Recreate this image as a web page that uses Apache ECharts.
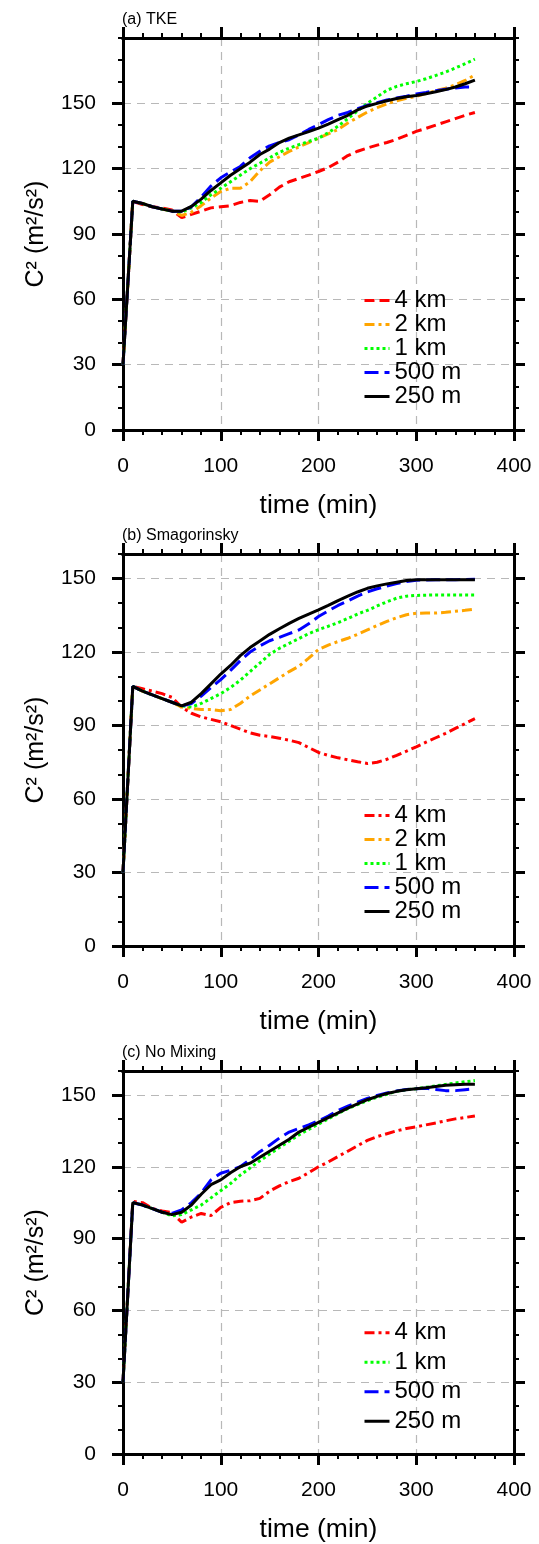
<!DOCTYPE html>
<html>
<head>
<meta charset="utf-8">
<script src="https://cdn.jsdelivr.net/npm/echarts@6/dist/echarts.min.js"></script>
<style>html,body{margin:0;padding:0;background:#fff}#chart{width:539px;height:1544px}</style>
</head>
<body>
<div id="chart"></div>
<script>
// ---- data (time in minutes, C^2 in m^2/s^2) ----
const times = [0,10,20,30,40,50,60,70,80,90,100,110,120,130,140,150,160,170,180,190,200,210,220,230,240,250,260,270,280,290,300,310,320,330,340,350,360];

// (a) TKE
const tke4km  = [30,105,103.5,102.5,102,101,97.5,99,100.5,102,102.5,103,104.5,105.4,105,108,111.5,114,115.5,117,118.7,120.5,123,126,128,129.5,130.8,132,133.5,135.3,137.1,138.5,140,141.5,143,144.5,145.8];
const tke2km  = [30,105,104,102.5,101.5,100.5,98.5,100,103,106.5,109.5,111,111,114,119,123,125.5,127.9,130,132,134,136,138,141,143.5,146,148,149.8,151.2,152.3,153.2,154.5,155.8,157,158.5,160.5,163];
const tke1km  = [30,105,104,102.5,101.5,100.5,100,102,104.5,108,111,114,117,120,122.5,125,127.5,129.4,131,132.5,134,136.5,139.5,143,146.5,150,153,156,157.8,159,160,161.3,162.8,164.4,166.2,168.2,170.3];
const tke500m = [30,105,104,102.5,101.5,100.5,100.5,102.5,107,112,115.8,118.5,121,125,128,130.5,132,133.3,135.5,138,140.2,142.5,144.5,145.8,147.5,149,150.3,151.5,152.5,153.3,154.3,155,155.8,156.5,157,157.5,157.5];
const tke250m = [30,105,104,102.5,101.5,100.5,100.5,102.7,106,110,113.5,117,120,123,126.5,129,132,134,135.5,137,138.6,140.5,142.5,144.5,147,148.8,150,151.2,152.2,153,153.6,154.4,155.3,156.3,157.5,159,160.7];

// (b) Smagorinsky
const sm4km  = [30,106,105,104,103,101.5,97.5,95,93.5,92.5,91.5,90,88.5,87,86,85.5,84.8,84,83,81,79,77.8,76.8,76,75.2,74.5,75,76.2,77.8,79.5,81.3,83.2,85,86.8,88.8,90.8,92.8];
const sm2km  = [30,106,104,102.5,101,99.5,97.5,97,96.5,96.5,96,96.5,99,102,104.5,107,109.5,112,114.2,117.5,121,122.8,124.3,125.6,127.2,129,130.8,132.5,134,135.2,135.8,135.9,135.9,136.2,136.6,137,137.5];
const sm1km  = [30,106,104,102.5,101,99.5,98,97.5,99,101,103,105.5,108.5,112,115.5,119,121.5,123.5,125.5,127.5,129.1,130.5,132,133.7,135.5,137,138.8,140.5,142,142.8,143.1,143.2,143.3,143.3,143.3,143.3,143.3];
const sm500m = [30,106,104,102.5,101,99.5,98,99,102,105.5,108.7,112.5,116.5,120,122.5,124.6,126,127.5,129,131.5,134.5,136.8,139,140.8,142.8,144.5,145.8,146.9,147.9,148.8,149.3,149.4,149.5,149.5,149.5,149.6,149.7];
const sm250m = [30,106,104,102.5,101,99.5,98,99.5,103,107,111,114.5,118.5,121.8,124.5,127.2,129.5,131.7,133.7,135.5,137.2,139,141,142.8,144.5,146,147,147.8,148.5,149.2,149.5,149.5,149.5,149.5,149.5,149.5,149.5];

// (c) No Mixing
const nm4km  = [30,105.5,105,102.6,101.5,100.8,96.8,99,100.5,99.6,103,105,105.6,105.8,106.8,109.8,112,113.8,115.2,117.5,120,122,124.3,126.5,128.8,131,132.6,133.8,135,136,136.7,137.5,138.3,139.2,140,140.6,141.2];
const nm1km  = [30,105,104,102.5,101,99.5,100,102,104,107,110,113,116.5,119.5,122.5,125.3,128,130.7,133.3,135.6,137.8,140,142.2,144.3,146,147.6,149,150.3,151.5,152.2,152.6,153.2,153.8,154.4,155,155.5,156];
const nm500m = [30,105,104,102.5,101,100.5,102,105,109,114.5,117.3,118.5,120,123,126.3,129,132,134.5,136,137.5,139.2,141.2,143.5,145.3,147,148.5,149.8,150.8,151.7,152.3,152.6,152.8,152.3,151.8,151.8,152.2,152.6];
const nm250m = [30,105,104,102.5,101,100,101,104,108.5,112.5,114.5,117.5,120,121.5,124,126.5,129,131.5,134.5,136.5,138.5,140.5,142.5,144.5,146.3,148,149.4,150.6,151.5,152.2,152.6,153,153.5,154,154.3,154.5,154.5];

const panelTitles = ['(a) TKE', '(b) Smagorinsky', '(c) No Mixing'];
const yMaxes = [180, 160, 160];
const yTicks = [0,30,60,90,120,150];
const xName = 'time (min)';
const yName = 'C\u00B2 (m\u00B2/s\u00B2)';

// ---- styling ----
const FONT = 'Liberation Sans, Arial, Helvetica, sans-serif';
const C = {red:'#ff0000', orange:'#ffa500', green:'#00ff00', blue:'#0000ff', black:'#000000'};
const DASH = [10,5], DASHDOT = [10,4,3,4], DOT = [3,3], LONGDASH = [14,6];

const panels = [
  { top: 38, legendTop: 288.5, legendRow: 23, legendFont: 24, series: [
    ['4 km', tke4km, C.red, DASH], ['2 km', tke2km, C.orange, DASHDOT], ['1 km', tke1km, C.green, DOT],
    ['500 m', tke500m, C.blue, LONGDASH], ['250 m', tke250m, C.black, 'solid'] ] },
  { top: 554, legendTop: 803.5, legendRow: 23, legendFont: 24, series: [
    ['4 km', sm4km, C.red, DASHDOT], ['2 km', sm2km, C.orange, DASHDOT], ['1 km', sm1km, C.green, DOT],
    ['500 m', sm500m, C.blue, LONGDASH], ['250 m', sm250m, C.black, 'solid'] ] },
  { top: 1071, legendTop: 1318, legendRow: 29.5, legendFont: 24, series: [
    ['4 km', nm4km, C.red, DASHDOT], ['1 km', nm1km, C.green, DOT],
    ['500 m', nm500m, C.blue, LONGDASH], ['250 m', nm250m, C.black, 'solid'] ] }
];

const GRID_H = 392, GRID_LEFT = 123, GRID_RIGHT = 25;
const axisLine = {show:true, onZero:false, lineStyle:{color:'#000', width:3, cap:'square'}};
const split = {show:true, lineStyle:{color:'#b8b8b8', width:1.2, type:[8,6]}};

const grid = [], xAxis = [], yAxis = [], series = [], legend = [], title = [];
panels.forEach((p, i) => {
  grid.push({left: GRID_LEFT, right: GRID_RIGHT, top: p.top, height: GRID_H});
  title.push({text: panelTitles[i], left: 122, top: p.top - 26, padding: 0,
    textStyle:{fontSize:16, fontWeight:'normal', color:'#000', fontFamily:FONT}});
  ['bottom','top'].forEach(pos => {
    const main = pos === 'bottom';
    xAxis.push({
      gridIndex:i, type:'value', position:pos, min:0, max:400, interval:100,
      axisLine, axisTick:{show:true, inside:false, length:11, lineStyle:{color:'#000', width:3}},
      minorTick:{show:true, splitNumber:5, length:5, lineStyle:{color:'#000', width:2}},
      axisLabel:{show:main, margin:26, fontSize:21, color:'#000', fontFamily:FONT},
      splitLine: main ? split : {show:false},
      name: main ? xName : '', nameLocation:'middle', nameGap:62,
      nameTextStyle:{fontSize:26.5, color:'#000', fontFamily:FONT}
    });
  });
  const yMax = yMaxes[i];
  ['left','right'].forEach(pos => {
    const main = pos === 'left';
    yAxis.push({
      gridIndex:i, type:'value', position:pos, min:0, max:yMax, interval:30,
      axisLine, axisTick:{show:true, inside:false, length:11, customValues:yTicks, lineStyle:{color:'#000', width:3}},
      axisLabel:{show:main, customValues:yTicks, margin:27, fontSize:21, color:'#000', fontFamily:FONT},
      splitLine: main ? split : {show:false},
      name: main ? yName : '', nameLocation:'middle', nameGap:74, nameRotate:90,
      nameTextStyle:{fontSize:25, color:'#000', fontFamily:FONT}
    });
    yAxis.push({
      gridIndex:i, type:'value', position:pos, min:0, max:yMax, interval:10,
      axisLine:{show:false, onZero:false}, axisTick:{show:true, inside:false, length:5, lineStyle:{color:'#000', width:2}},
      axisLabel:{show:false}, splitLine:{show:false}
    });
  });
  const names = [];
  p.series.forEach(([label, vals, color, type]) => {
    const name = 'p' + i + '|' + label;
    names.push(name);
    series.push({
      name, type:'line', xAxisIndex: 2*i, yAxisIndex: 4*i,
      data: times.map((t, k) => [t, vals[k]]),
      symbol:'none', showSymbol:false, smooth:false, animation:false,
      lineStyle:{color, width:3, type}, itemStyle:{color}
    });
  });
  legend.push({
    data: names, orient:'vertical', left:363, top:p.legendTop, padding:0,
    itemWidth:25, itemHeight:p.legendRow, itemGap:0, selectedMode:false,
    itemStyle:{opacity:0}, lineStyle:{width:3},
    formatter: n => n.split('|')[1],
    textStyle:{fontSize:p.legendFont, lineHeight:p.legendRow, color:'#000', fontFamily:FONT}
  });
});

const chart = echarts.init(document.getElementById('chart'), null, {renderer:'canvas'});
chart.setOption({animation:false, backgroundColor:'#fff', title, grid, xAxis, yAxis, legend, series});
</script>
</body>
</html>
